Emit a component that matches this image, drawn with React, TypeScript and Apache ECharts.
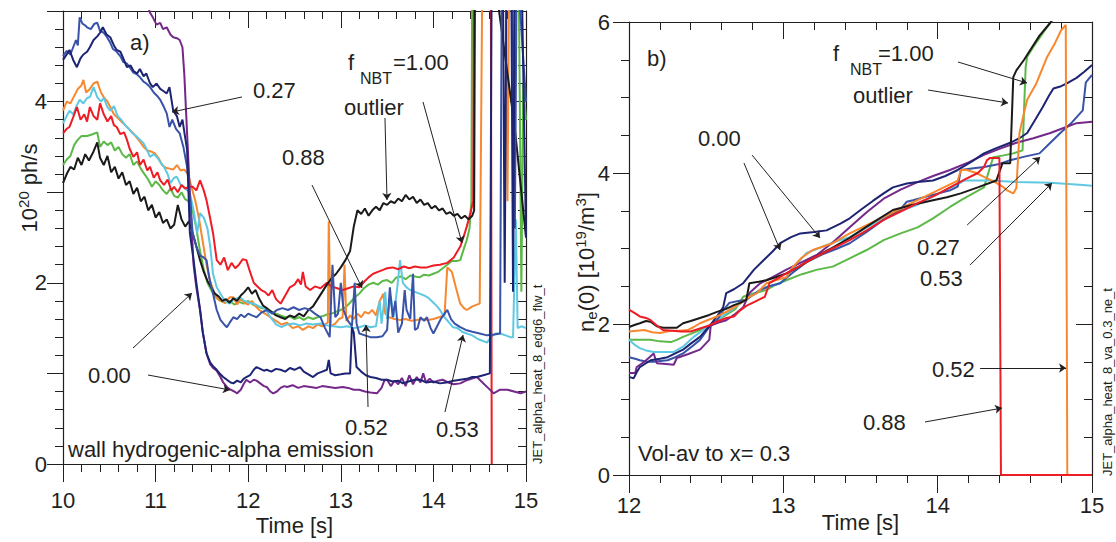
import React, { useEffect, useRef } from "react";
import * as echarts from "echarts";

type P = [number, number];
type A = [number, number, number, number];

// ---------- panel a) wall hydrogenic-alpha emission (10^20 ph/s) ----------
const leftBlack: P[] = [[10.00,3.10],[10.04,3.20],[10.08,3.28],[10.12,3.25],[10.16,3.38],[10.20,3.30],[10.24,3.42],[10.28,3.35],[10.33,3.45],[10.37,3.55],[10.40,3.38],[10.44,3.30],[10.48,3.40],[10.52,3.22],[10.56,3.28],[10.60,3.15],[10.64,3.22],[10.68,3.08],[10.72,3.12],[10.76,2.98],[10.80,3.05],[10.84,2.90],[10.88,2.95],[10.92,2.80],[10.96,2.86],[11.00,2.72],[11.04,2.78],[11.08,2.66],[11.12,2.70],[11.16,2.60],[11.20,2.64],[11.24,2.86],[11.28,2.70],[11.32,2.62],[11.36,2.68],[11.40,2.55],[11.44,2.40],[11.48,2.25],[11.52,2.12],[11.56,2.02],[11.60,1.95],[11.64,1.88],[11.68,1.85],[11.72,1.80],[11.76,1.82],[11.80,1.78],[11.84,1.83],[11.88,1.80],[11.92,1.86],[11.96,1.90],[12.00,1.95],[12.04,1.88],[12.08,1.92],[12.12,1.82],[12.16,1.75],[12.20,1.72],[12.25,1.68],[12.30,1.64],[12.35,1.62],[12.40,1.60],[12.45,1.64],[12.50,1.62],[12.55,1.66],[12.60,1.63],[12.65,1.70],[12.70,1.74],[12.75,1.82],[12.80,1.90],[12.85,1.98],[12.90,2.05],[12.95,2.10],[13.00,2.17],[13.05,2.25],[13.10,2.35],[13.14,2.62],[13.18,2.80],[13.22,2.76],[13.26,2.82],[13.30,2.74],[13.34,2.80],[13.38,2.84],[13.42,2.80],[13.46,2.88],[13.50,2.86],[13.54,2.90],[13.58,2.88],[13.62,2.93],[13.66,2.90],[13.70,2.97],[13.74,2.92],[13.78,2.95],[13.82,2.88],[13.86,2.92],[13.90,2.86],[13.94,2.88],[13.98,2.82],[14.02,2.85],[14.06,2.80],[14.10,2.82],[14.14,2.76],[14.18,2.78],[14.22,2.74],[14.26,2.76],[14.30,2.71],[14.34,2.74],[14.38,2.70],[14.42,2.74],[14.44,2.80],[14.45,5.60],[14.63,5.60],[14.88,3.70],[15.00,2.50]];
const leftGreen: P[] = [[10.00,3.30],[10.04,3.36],[10.08,3.40],[10.12,3.52],[10.16,3.58],[10.20,3.62],[10.26,3.62],[10.32,3.64],[10.37,3.66],[10.40,3.50],[10.44,3.56],[10.48,3.52],[10.52,3.55],[10.56,3.46],[10.60,3.50],[10.64,3.42],[10.68,3.38],[10.72,3.42],[10.76,3.30],[10.80,3.34],[10.84,3.26],[10.88,3.20],[10.92,3.14],[10.96,3.06],[11.00,3.12],[11.04,3.08],[11.08,3.02],[11.12,2.98],[11.16,3.04],[11.20,2.96],[11.24,2.94],[11.28,3.00],[11.32,2.92],[11.36,2.90],[11.40,2.80],[11.44,2.60],[11.48,2.35],[11.52,2.15],[11.56,2.00],[11.60,1.92],[11.65,1.84],[11.70,1.80],[11.75,1.78],[11.80,1.80],[11.85,1.76],[11.90,1.79],[11.95,1.77],[12.00,1.80],[12.05,1.76],[12.10,1.74],[12.15,1.72],[12.20,1.72],[12.25,1.68],[12.30,1.66],[12.35,1.64],[12.40,1.62],[12.45,1.63],[12.50,1.60],[12.55,1.62],[12.60,1.59],[12.65,1.62],[12.70,1.60],[12.75,1.62],[12.80,1.63],[12.85,1.65],[12.90,1.66],[12.95,1.68],[13.00,1.70],[13.05,1.73],[13.10,1.78],[13.15,1.84],[13.20,1.88],[13.25,1.94],[13.30,1.98],[13.35,2.00],[13.40,1.98],[13.45,2.02],[13.50,2.03],[13.55,2.00],[13.60,2.06],[13.65,2.07],[13.70,2.04],[13.75,2.08],[13.80,2.07],[13.85,2.06],[13.90,2.09],[13.95,2.08],[14.00,2.10],[14.05,2.12],[14.10,2.16],[14.15,2.20],[14.20,2.24],[14.25,2.24],[14.29,2.25],[14.33,2.38],[14.36,2.47],[14.39,2.60],[14.41,2.90],[14.42,5.60],[14.92,5.60],[14.95,1.90],[14.97,4.20],[15.00,3.80]];
const leftRed: P[] = [[10.00,3.65],[10.04,3.70],[10.07,3.72],[10.10,3.80],[10.15,3.94],[10.19,3.80],[10.23,3.86],[10.26,3.78],[10.29,3.94],[10.33,3.84],[10.37,3.80],[10.40,3.98],[10.44,3.86],[10.48,3.78],[10.52,3.84],[10.55,3.74],[10.58,3.72],[10.62,3.64],[10.66,3.66],[10.69,3.58],[10.72,3.48],[10.76,3.39],[10.80,3.44],[10.83,3.30],[10.87,3.36],[10.91,3.24],[10.94,3.28],[10.98,3.16],[11.02,3.22],[11.05,3.13],[11.09,3.08],[11.13,3.14],[11.17,3.02],[11.20,3.06],[11.24,3.00],[11.28,3.08],[11.32,3.04],[11.36,3.06],[11.40,3.06],[11.44,3.02],[11.48,3.13],[11.52,3.02],[11.55,2.91],[11.58,2.76],[11.62,2.55],[11.66,2.25],[11.70,2.20],[11.74,2.28],[11.78,2.14],[11.82,2.22],[11.86,2.16],[11.90,2.20],[11.94,2.26],[11.98,2.25],[12.02,2.12],[12.06,2.00],[12.10,1.96],[12.14,1.92],[12.18,1.90],[12.22,1.86],[12.26,1.92],[12.30,1.82],[12.35,1.77],[12.40,1.86],[12.45,1.95],[12.50,1.98],[12.54,2.04],[12.57,1.98],[12.59,2.12],[12.62,1.96],[12.67,1.92],[12.72,1.96],[12.78,1.94],[12.85,2.00],[12.90,1.96],[12.96,1.94],[13.02,1.92],[13.08,1.94],[13.14,1.96],[13.20,1.95],[13.26,2.02],[13.30,2.06],[13.35,2.10],[13.40,2.12],[13.45,2.14],[13.50,2.16],[13.56,2.17],[13.62,2.15],[13.68,2.18],[13.74,2.16],[13.80,2.18],[13.86,2.17],[13.93,2.17],[14.00,2.19],[14.07,2.20],[14.15,2.22],[14.22,2.28],[14.29,2.40],[14.33,2.52],[14.36,2.62],[14.40,2.77],[14.43,2.90],[14.44,5.60],[14.62,5.60],[14.63,0.00]];
const leftOrange: P[] = [[10.00,3.90],[10.04,4.00],[10.08,3.98],[10.12,4.06],[10.16,4.14],[10.20,4.18],[10.22,4.24],[10.25,4.10],[10.29,4.14],[10.33,4.20],[10.37,4.22],[10.41,4.10],[10.44,4.05],[10.48,4.00],[10.51,3.94],[10.55,3.86],[10.59,3.82],[10.63,3.78],[10.67,3.74],[10.71,3.70],[10.75,3.66],[10.79,3.61],[10.83,3.56],[10.87,3.50],[10.91,3.46],[10.95,3.45],[10.99,3.43],[11.03,3.38],[11.07,3.30],[11.11,3.27],[11.15,3.26],[11.19,3.25],[11.23,3.30],[11.27,3.24],[11.31,3.25],[11.35,3.20],[11.39,3.05],[11.43,2.90],[11.47,2.70],[11.51,2.45],[11.55,2.20],[11.59,2.02],[11.63,1.90],[11.67,1.82],[11.71,1.80],[11.75,1.78],[11.80,1.84],[11.84,1.84],[11.88,1.76],[11.92,1.82],[11.96,1.78],[12.00,1.76],[12.04,1.80],[12.08,1.74],[12.12,1.70],[12.18,1.66],[12.24,1.62],[12.30,1.58],[12.36,1.54],[12.42,1.56],[12.48,1.50],[12.54,1.52],[12.59,1.48],[12.65,1.52],[12.70,1.50],[12.75,1.54],[12.80,1.52],[12.86,1.56],[12.87,2.68],[12.89,1.52],[12.94,1.55],[12.98,1.60],[13.02,1.62],[13.04,2.20],[13.06,1.58],[13.10,1.64],[13.14,1.60],[13.18,1.66],[13.22,1.62],[13.26,1.68],[13.30,1.66],[13.34,1.70],[13.38,1.64],[13.42,1.80],[13.46,1.88],[13.48,1.66],[13.52,1.62],[13.58,1.60],[13.64,1.59],[13.70,1.60],[13.76,1.58],[13.82,1.59],[13.88,1.60],[13.94,1.59],[14.00,1.60],[14.06,1.62],[14.12,1.64],[14.15,2.17],[14.20,2.12],[14.24,1.96],[14.29,1.77],[14.33,1.72],[14.36,1.70],[14.42,1.74],[14.50,1.77],[14.53,5.60],[14.78,5.60],[14.80,2.90],[14.82,5.60],[15.00,5.60]];
const leftCyan: P[] = [[10.00,3.76],[10.04,3.84],[10.07,3.90],[10.11,3.86],[10.15,3.96],[10.18,4.02],[10.22,3.98],[10.26,4.04],[10.29,4.05],[10.33,4.16],[10.37,4.05],[10.41,4.00],[10.44,4.04],[10.48,3.94],[10.51,3.90],[10.55,3.95],[10.59,3.84],[10.63,3.80],[10.67,3.74],[10.71,3.70],[10.75,3.65],[10.79,3.62],[10.83,3.58],[10.87,3.54],[10.91,3.46],[10.94,3.39],[10.98,3.42],[11.02,3.38],[11.06,3.32],[11.09,3.28],[11.13,3.20],[11.16,3.10],[11.20,3.16],[11.23,3.17],[11.27,3.08],[11.30,3.06],[11.34,3.02],[11.37,2.99],[11.41,2.80],[11.45,2.55],[11.48,2.77],[11.52,2.72],[11.56,2.60],[11.59,2.40],[11.62,2.10],[11.66,1.95],[11.70,1.88],[11.75,1.80],[11.80,1.77],[11.85,1.82],[11.91,1.84],[11.96,1.80],[12.01,1.78],[12.06,1.77],[12.12,1.74],[12.18,1.72],[12.24,1.62],[12.30,1.54],[12.36,1.51],[12.42,1.54],[12.49,1.55],[12.56,1.53],[12.63,1.55],[12.70,1.54],[12.78,1.55],[12.85,1.53],[12.92,1.52],[13.00,1.51],[13.07,1.52],[13.14,1.50],[13.20,1.51],[13.26,1.53],[13.32,1.51],[13.38,1.52],[13.42,1.80],[13.44,1.55],[13.48,1.90],[13.50,1.60],[13.54,1.85],[13.57,1.62],[13.61,1.95],[13.64,2.25],[13.67,2.00],[13.71,1.95],[13.75,1.92],[13.80,1.90],[13.85,1.88],[13.90,1.86],[13.95,1.83],[14.00,1.78],[14.04,1.74],[14.07,1.70],[14.12,1.62],[14.17,1.56],[14.21,1.51],[14.26,1.50],[14.31,1.46],[14.36,1.44],[14.42,1.42],[14.48,1.38],[14.53,1.36],[14.58,1.34],[14.62,1.40],[14.67,1.44],[14.72,1.44],[14.78,1.42],[14.83,1.40],[14.86,1.40],[14.89,2.70],[14.91,1.50],[14.95,1.52],[15.00,1.50]];
const leftBlue: P[] = [[10.00,4.50],[10.04,4.56],[10.08,4.52],[10.11,4.60],[10.14,4.68],[10.16,4.62],[10.18,4.93],[10.21,4.86],[10.24,4.84],[10.26,4.82],[10.30,4.80],[10.34,4.86],[10.37,4.87],[10.40,4.78],[10.44,4.76],[10.47,4.72],[10.51,4.65],[10.54,4.58],[10.58,4.55],[10.62,4.50],[10.65,4.44],[10.69,4.42],[10.72,4.38],[10.76,4.32],[10.80,4.30],[10.83,4.27],[10.87,4.22],[10.90,4.20],[10.94,4.16],[10.98,4.10],[11.02,4.06],[11.05,4.02],[11.09,3.94],[11.12,3.87],[11.15,3.72],[11.18,3.80],[11.22,3.70],[11.26,3.65],[11.30,3.50],[11.34,3.28],[11.37,2.95],[11.40,2.55],[11.44,2.40],[11.48,2.30],[11.52,2.28],[11.55,2.25],[11.58,2.05],[11.62,1.88],[11.66,1.70],[11.70,1.59],[11.74,1.54],[11.77,1.51],[11.80,1.56],[11.84,1.62],[11.88,1.60],[11.92,1.65],[11.96,1.62],[12.00,1.66],[12.04,1.64],[12.09,1.62],[12.14,1.67],[12.20,1.70],[12.26,1.66],[12.31,1.70],[12.37,1.72],[12.43,1.70],[12.49,1.73],[12.55,1.70],[12.61,1.72],[12.67,1.70],[12.72,1.66],[12.78,1.62],[12.83,1.50],[12.88,1.40],[12.91,2.20],[12.94,1.62],[12.97,1.66],[13.00,2.00],[13.03,1.70],[13.07,1.59],[13.12,1.52],[13.15,2.00],[13.17,1.55],[13.20,1.44],[13.26,1.42],[13.32,1.40],[13.39,1.40],[13.45,1.41],[13.50,1.48],[13.53,1.95],[13.56,1.62],[13.59,1.80],[13.62,1.45],[13.66,1.55],[13.69,1.92],[13.71,1.70],[13.75,1.60],[13.78,2.10],[13.80,1.48],[13.83,1.50],[13.86,1.62],[13.90,1.58],[13.93,1.62],[13.97,1.50],[14.00,1.44],[14.04,1.52],[14.08,1.60],[14.12,1.66],[14.15,1.70],[14.19,1.60],[14.23,1.55],[14.29,1.51],[14.35,1.48],[14.42,1.46],[14.50,1.44],[14.58,1.42],[14.66,1.43],[14.72,1.44],[14.74,5.60],[14.85,5.60],[14.88,2.60],[14.90,5.60],[15.00,4.00]];
const leftNavy: P[] = [[10.00,4.46],[10.04,4.52],[10.07,4.57],[10.11,4.46],[10.15,4.38],[10.19,4.48],[10.22,4.52],[10.26,4.55],[10.29,4.60],[10.33,4.68],[10.37,4.72],[10.40,4.76],[10.43,4.82],[10.47,4.74],[10.51,4.71],[10.55,4.62],[10.58,4.57],[10.62,4.55],[10.65,4.48],[10.69,4.38],[10.73,4.40],[10.76,4.34],[10.80,4.31],[10.83,4.36],[10.87,4.28],[10.90,4.31],[10.94,4.20],[10.97,4.16],[11.01,4.20],[11.05,4.14],[11.08,4.12],[11.12,4.09],[11.15,4.16],[11.19,3.90],[11.23,3.84],[11.26,3.72],[11.29,3.80],[11.32,3.60],[11.34,3.47],[11.37,2.55],[11.41,2.25],[11.44,2.00],[11.48,1.70],[11.51,1.45],[11.55,1.22],[11.59,1.12],[11.62,1.08],[11.66,1.04],[11.70,0.99],[11.73,0.96],[11.77,0.93],[11.81,0.90],[11.84,0.89],[11.88,0.92],[11.92,0.90],[11.95,0.94],[11.98,0.96],[12.02,0.98],[12.06,1.04],[12.09,1.07],[12.13,1.05],[12.17,1.03],[12.20,1.04],[12.25,1.02],[12.30,1.05],[12.35,1.04],[12.40,1.02],[12.45,1.06],[12.50,1.04],[12.56,1.07],[12.60,1.02],[12.65,0.99],[12.70,0.96],[12.75,1.00],[12.80,1.02],[12.85,1.04],[12.87,1.15],[12.89,1.00],[12.94,0.98],[13.00,0.99],[13.05,1.00],[13.10,1.00],[13.12,1.51],[13.14,1.45],[13.17,1.07],[13.22,1.02],[13.27,0.98],[13.32,0.96],[13.38,0.95],[13.44,0.93],[13.50,0.93],[13.56,0.91],[13.62,0.92],[13.67,0.89],[13.73,0.91],[13.80,0.93],[13.86,0.93],[13.92,0.90],[14.00,0.91],[14.07,0.89],[14.14,0.90],[14.22,0.92],[14.29,0.93],[14.36,0.94],[14.42,0.96],[14.47,0.96],[14.54,0.98],[14.61,1.00],[14.63,5.60],[14.75,5.60],[14.77,2.00],[14.79,5.60],[14.84,5.60],[14.86,1.90],[14.88,5.60],[14.95,5.60],[15.00,2.50]];
const leftPurple: P[] = [[10.00,5.60],[10.85,5.60],[10.90,5.10],[10.94,4.98],[10.97,4.93],[11.01,4.85],[11.05,4.87],[11.08,4.80],[11.12,4.82],[11.16,4.74],[11.19,4.71],[11.23,4.70],[11.26,4.68],[11.29,4.60],[11.31,4.30],[11.34,3.65],[11.37,3.00],[11.41,2.20],[11.44,1.95],[11.48,1.70],[11.51,1.45],[11.55,1.22],[11.59,1.10],[11.62,1.06],[11.66,1.03],[11.70,0.96],[11.73,0.90],[11.77,0.85],[11.81,0.82],[11.85,0.80],[11.88,0.78],[11.92,0.82],[11.95,0.88],[11.98,0.93],[12.02,0.90],[12.06,0.93],[12.09,0.92],[12.13,0.89],[12.17,0.86],[12.20,0.85],[12.24,0.80],[12.27,0.78],[12.31,0.80],[12.35,0.84],[12.39,0.86],[12.42,0.85],[12.48,0.87],[12.54,0.84],[12.60,0.86],[12.67,0.85],[12.74,0.84],[12.80,0.86],[12.87,0.85],[12.94,0.84],[13.02,0.85],[13.08,0.84],[13.14,0.82],[13.20,0.82],[13.26,0.80],[13.32,0.79],[13.39,0.78],[13.44,0.84],[13.47,0.92],[13.50,0.93],[13.54,0.86],[13.58,0.92],[13.62,0.88],[13.66,0.95],[13.70,0.86],[13.74,0.98],[13.78,0.88],[13.82,0.96],[13.86,0.90],[13.89,1.00],[13.92,0.90],[13.96,0.94],[14.00,0.90],[14.05,0.92],[14.10,0.93],[14.16,0.90],[14.22,0.88],[14.29,0.89],[14.35,0.92],[14.41,0.94],[14.47,0.96],[14.53,0.90],[14.59,0.84],[14.65,0.78],[14.72,0.82],[14.80,0.82],[14.87,0.80],[14.94,0.78],[15.00,0.80]];

// ---------- panel b) ne(0) [10^19/m^3] ----------
const rightRed: P[] = [[12.00,2.19],[12.04,2.14],[12.07,2.10],[12.11,2.08],[12.14,2.05],[12.18,1.98],[12.22,1.92],[12.28,1.91],[12.34,1.90],[12.40,1.90],[12.46,1.94],[12.52,1.98],[12.58,2.04],[12.63,2.08],[12.68,2.10],[12.72,2.18],[12.76,2.24],[12.82,2.30],[12.88,2.36],[12.91,2.54],[12.96,2.60],[13.02,2.67],[13.10,2.76],[13.20,2.88],[13.30,2.98],[13.43,3.11],[13.54,3.24],[13.65,3.38],[13.76,3.49],[13.87,3.60],[13.98,3.70],[14.08,3.81],[14.18,3.92],[14.26,4.00],[14.30,4.08],[14.32,4.17],[14.34,4.20],[14.40,4.20],[14.41,0.00],[15.00,0.00]];
const rightBlack: P[] = [[12.00,1.96],[12.04,1.99],[12.07,2.01],[12.11,2.04],[12.14,2.03],[12.18,1.97],[12.22,1.95],[12.27,1.95],[12.31,1.95],[12.35,2.01],[12.40,2.04],[12.46,2.08],[12.52,2.12],[12.57,2.16],[12.63,2.20],[12.68,2.25],[12.72,2.28],[12.76,2.32],[12.78,2.54],[12.84,2.56],[12.89,2.58],[12.95,2.62],[13.02,2.67],[13.10,2.76],[13.20,2.88],[13.30,2.99],[13.43,3.14],[13.57,3.33],[13.71,3.51],[13.84,3.58],[13.97,3.64],[14.06,3.68],[14.15,3.73],[14.26,3.81],[14.38,3.90],[14.42,4.13],[14.47,4.13],[14.49,5.27],[14.51,5.36],[14.56,5.50],[14.60,5.63],[14.66,5.82],[14.73,5.99],[14.80,6.20]];
const rightOrange: P[] = [[12.00,1.90],[12.05,1.91],[12.10,1.92],[12.15,1.89],[12.20,1.88],[12.27,1.91],[12.33,1.91],[12.38,1.92],[12.42,1.96],[12.46,2.01],[12.52,2.06],[12.57,2.10],[12.63,2.16],[12.68,2.22],[12.74,2.30],[12.78,2.36],[12.83,2.41],[12.89,2.54],[12.95,2.58],[13.02,2.62],[13.06,2.75],[13.12,2.88],[13.19,2.98],[13.32,3.07],[13.43,3.20],[13.54,3.31],[13.65,3.42],[13.76,3.53],[13.87,3.64],[14.00,3.77],[14.13,3.90],[14.15,4.04],[14.19,4.04],[14.25,4.00],[14.30,3.95],[14.34,3.91],[14.38,3.87],[14.42,3.82],[14.45,3.77],[14.49,3.73],[14.51,3.80],[14.53,4.53],[14.56,4.80],[14.58,4.97],[14.64,5.19],[14.71,5.54],[14.76,5.72],[14.80,5.89],[14.83,5.96],[14.84,0.00],[15.00,0.00]];
const rightGreen: P[] = [[12.00,1.79],[12.07,1.79],[12.14,1.79],[12.20,1.77],[12.27,1.76],[12.31,1.79],[12.35,1.83],[12.40,1.87],[12.46,1.92],[12.52,1.98],[12.57,2.05],[12.63,2.12],[12.69,2.20],[12.74,2.36],[12.80,2.40],[12.89,2.45],[12.95,2.52],[13.02,2.58],[13.12,2.66],[13.22,2.72],[13.32,2.76],[13.43,2.87],[13.54,2.98],[13.65,3.11],[13.76,3.20],[13.87,3.28],[13.97,3.40],[14.08,3.55],[14.16,3.65],[14.23,3.73],[14.30,3.81],[14.34,4.08],[14.36,4.21],[14.42,4.23],[14.49,4.26],[14.55,4.30],[14.57,5.40],[14.58,5.54],[14.62,5.67],[14.68,5.85],[14.73,5.99],[14.80,6.20]];
const rightCyan: P[] = [[12.00,1.79],[12.04,1.72],[12.07,1.68],[12.11,1.65],[12.16,1.63],[12.22,1.63],[12.29,1.63],[12.35,1.70],[12.42,1.83],[12.50,1.95],[12.57,2.05],[12.63,2.14],[12.70,2.24],[12.78,2.36],[12.84,2.44],[12.89,2.49],[12.98,2.54],[13.02,2.62],[13.08,2.78],[13.15,2.94],[13.25,3.02],[13.35,3.10],[13.43,3.15],[13.54,3.28],[13.65,3.40],[13.76,3.50],[13.87,3.58],[13.98,3.70],[14.08,3.80],[14.13,3.85],[14.17,3.90],[14.34,3.90],[14.51,3.88],[14.73,3.87],[14.94,3.84],[15.00,3.83]];
const rightBlue: P[] = [[12.00,1.56],[12.04,1.54],[12.07,1.52],[12.12,1.50],[12.16,1.50],[12.20,1.51],[12.25,1.52],[12.30,1.56],[12.35,1.61],[12.40,1.69],[12.46,1.79],[12.52,1.96],[12.57,2.05],[12.61,2.18],[12.65,2.28],[12.70,2.30],[12.76,2.32],[12.80,2.38],[12.85,2.45],[12.91,2.50],[12.98,2.54],[13.06,2.68],[13.15,2.82],[13.25,2.92],[13.35,3.00],[13.43,3.07],[13.54,3.22],[13.65,3.38],[13.76,3.52],[13.80,3.62],[13.84,3.64],[13.95,3.70],[14.08,3.77],[14.13,3.82],[14.15,4.04],[14.22,4.06],[14.30,4.08],[14.40,4.12],[14.47,4.17],[14.57,4.22],[14.66,4.26],[14.73,4.40],[14.80,4.54],[14.87,4.67],[14.94,4.83],[14.96,5.20],[15.00,5.30]];
const rightNavy: P[] = [[12.00,1.30],[12.03,1.28],[12.05,1.36],[12.07,1.43],[12.11,1.48],[12.14,1.52],[12.20,1.54],[12.25,1.56],[12.30,1.61],[12.35,1.66],[12.40,1.74],[12.46,1.83],[12.52,1.97],[12.57,2.10],[12.61,2.22],[12.63,2.41],[12.68,2.46],[12.74,2.54],[12.81,2.72],[12.87,2.84],[12.93,2.96],[12.98,3.07],[13.05,3.15],[13.11,3.20],[13.20,3.22],[13.28,3.24],[13.37,3.33],[13.43,3.40],[13.50,3.51],[13.58,3.63],[13.65,3.73],[13.71,3.81],[13.80,3.86],[13.87,3.88],[13.97,3.90],[14.05,3.96],[14.13,4.04],[14.22,4.15],[14.30,4.26],[14.38,4.33],[14.47,4.40],[14.53,4.46],[14.58,4.53],[14.63,4.70],[14.68,4.87],[14.72,5.02],[14.75,5.12],[14.80,5.15],[14.84,5.19],[14.90,5.26],[14.95,5.34],[15.00,5.43]];
const rightPurple: P[] = [[12.00,1.35],[12.04,1.35],[12.05,1.43],[12.10,1.50],[12.16,1.61],[12.18,1.48],[12.24,1.47],[12.29,1.46],[12.31,1.55],[12.38,1.60],[12.46,1.66],[12.52,1.79],[12.53,1.98],[12.58,2.02],[12.63,2.05],[12.68,2.12],[12.74,2.22],[12.78,2.41],[12.85,2.54],[12.93,2.62],[13.02,2.72],[13.11,2.81],[13.22,2.92],[13.32,3.08],[13.43,3.28],[13.54,3.48],[13.65,3.66],[13.76,3.78],[13.87,3.88],[13.97,3.96],[14.08,4.04],[14.20,4.14],[14.30,4.24],[14.40,4.32],[14.51,4.40],[14.62,4.46],[14.73,4.53],[14.82,4.60],[14.90,4.66],[15.00,4.68]];

// annotation arrows: [fromX, fromY, toX, toY] in data units
const leftArrows: A[] = [
  [11.933, 4.051, 11.177, 3.885],
  [13.477, 3.819, 13.499, 2.914],
  [13.888, 3.996, 14.309, 2.439],
  [12.689, 3.079, 13.229, 1.943],
  [10.756, 1.280, 11.393, 1.887],
  [10.918, 0.982, 11.803, 0.817],
  [13.294, 0.629, 13.272, 1.534],
  [14.125, 0.574, 14.320, 1.424],
];
const rightArrows: A[] = [
  [14.132, 5.470, 14.579, 5.192],
  [13.938, 5.099, 14.456, 4.927],
  [12.745, 4.132, 12.979, 2.980],
  [12.797, 4.238, 13.238, 3.139],
  [14.191, 3.311, 14.664, 4.212],
  [14.210, 2.781, 14.741, 3.868],
  [14.275, 1.417, 14.832, 1.417],
  [13.918, 0.702, 14.417, 0.887],
];

const leftYLabelValues = [0, 2, 4];
const rightYLabelValues = [0, 2, 4, 6];

const COLORS = {
  black: "#1a1a1a",
  green: "#5cb947",
  red: "#ee1c25",
  orange: "#f7882f",
  cyan: "#5fc8e2",
  blue: "#3853a8",
  navy: "#1d2474",
  purple: "#74298a",
};

const FONT = '"Liberation Sans", Arial, Helvetica, sans-serif';
const INK = "#231f20";
const FS = 22;

function xAxisPair(gridIndex: number, min: number, max: number, margin: number, nameGap: number) {
  const common: any = {
    type: "value",
    gridIndex,
    min,
    max,
    interval: 1,
    splitLine: { show: false },
    axisLine: { show: true, onZero: false, lineStyle: { color: INK, width: 1.2 } },
    minorTick: { show: true, splitNumber: 5, length: 8, lineStyle: { color: INK, width: 1 } },
    minorSplitLine: { show: false },
  };
  return [
    {
      ...common,
      position: "bottom",
      axisTick: { show: true, inside: false, length: 18, lineStyle: { color: INK, width: 1 } },
      axisLabel: { show: true, margin, fontSize: FS, color: INK, fontFamily: FONT, showMinLabel: true, showMaxLabel: true },
      name: "Time [s]",
      nameLocation: "middle",
      nameGap,
      nameMoveOverlap: false,
      nameTextStyle: { fontSize: FS, color: INK, fontFamily: FONT, lineHeight: 22 },
    },
    {
      ...common,
      position: "top",
      axisTick: { show: true, inside: true, length: 17, lineStyle: { color: INK, width: 1 } },
      axisLabel: { show: false },
    },
  ];
}

function yAxisPair(gridIndex: number, max: number, interval: number, minorSplit: number, labels: number[], margin: number) {
  const common: any = {
    type: "value",
    gridIndex,
    min: 0,
    max,
    interval,
    splitLine: { show: false },
    axisLine: { show: true, onZero: false, lineStyle: { color: INK, width: 1.2 } },
    minorTick: { show: true, splitNumber: minorSplit, length: 8, lineStyle: { color: INK, width: 1 } },
    minorSplitLine: { show: false },
  };
  return [
    {
      ...common,
      position: "left",
      axisTick: { show: true, inside: false, length: 16, lineStyle: { color: INK, width: 1 } },
      axisLabel: {
        show: true,
        margin,
        fontSize: FS,
        color: INK,
        fontFamily: FONT,
        showMinLabel: true,
        showMaxLabel: true,
        formatter: (v: number) => (labels.indexOf(Math.round(v * 1000) / 1000) >= 0 ? String(v) : ""),
      },
    },
    {
      ...common,
      position: "right",
      axisTick: { show: true, inside: true, length: 16, lineStyle: { color: INK, width: 1 } },
      axisLabel: { show: false },
    },
  ];
}

function lineSeries(data: P[], color: string, xi: number, yi: number) {
  return {
    type: "line",
    data,
    xAxisIndex: xi,
    yAxisIndex: yi,
    showSymbol: false,
    symbol: "none",
    clip: true,
    silent: true,
    lineStyle: { color, width: 2 },
    itemStyle: { color },
    emphasis: { disabled: true },
  };
}

function arrowSeries(arrows: A[], xi: number, yi: number) {
  return {
    type: "line",
    data: [],
    xAxisIndex: xi,
    yAxisIndex: yi,
    silent: true,
    markLine: {
      silent: true,
      animation: false,
      symbol: ["none", "arrow"],
      symbolSize: 7,
      label: { show: false },
      emphasis: { disabled: true },
      lineStyle: { color: INK, width: 1, type: "solid" },
      data: arrows.map((a) => [{ coord: [a[0], a[1]] }, { coord: [a[2], a[3]] }]),
    },
  };
}

function txt(text: string, x: number, y: number, size = FS, align = "left") {
  return {
    type: "text",
    x,
    y,
    silent: true,
    style: { text, fontSize: size, fontFamily: FONT, fill: INK, align, verticalAlign: "middle" },
  };
}

export default function App() {
  const ref = useRef<HTMLDivElement>(null);

  useEffect(() => {
    if (!ref.current) return;
    const chart = echarts.init(ref.current, undefined, { renderer: "svg" });

    const option: any = {
      animation: false,
      backgroundColor: "#ffffff",
      grid: [
        { left: 63, right: 590, top: 11, bottom: 78, containLabel: false, outerBoundsMode: "none" },
        { left: 629, right: 24, top: 22, bottom: 67, containLabel: false, outerBoundsMode: "none" },
      ],
      xAxis: [...xAxisPair(0, 10, 15, 25, 50), ...xAxisPair(1, 12, 15, 19, 36)],
      yAxis: [
        ...yAxisPair(0, 5, 1, 5, leftYLabelValues, 16),
        ...yAxisPair(1, 6, 2, 4, rightYLabelValues, 19),
      ],
      series: [
        lineSeries(leftGreen, COLORS.green, 0, 0),
        lineSeries(leftOrange, COLORS.orange, 0, 0),
        lineSeries(leftCyan, COLORS.cyan, 0, 0),
        lineSeries(leftRed, COLORS.red, 0, 0),
        lineSeries(leftBlack, COLORS.black, 0, 0),
        lineSeries(leftPurple, COLORS.purple, 0, 0),
        lineSeries(leftBlue, COLORS.blue, 0, 0),
        lineSeries(leftNavy, COLORS.navy, 0, 0),
        arrowSeries(leftArrows, 0, 0),
        lineSeries(rightGreen, COLORS.green, 2, 2),
        lineSeries(rightCyan, COLORS.cyan, 2, 2),
        lineSeries(rightBlue, COLORS.blue, 2, 2),
        lineSeries(rightPurple, COLORS.purple, 2, 2),
        lineSeries(rightNavy, COLORS.navy, 2, 2),
        lineSeries(rightOrange, COLORS.orange, 2, 2),
        lineSeries(rightBlack, COLORS.black, 2, 2),
        lineSeries(rightRed, COLORS.red, 2, 2),
        arrowSeries(rightArrows, 2, 2),
      ],
      graphic: [
        // panel a) texts
        txt("a)", 130, 42),
        txt("0.27", 253, 90),
        txt("f", 348, 62),
        txt("NBT", 360, 78, 16),
        txt("=1.00", 393, 62),
        txt("outlier", 344, 107),
        txt("0.88", 282, 157),
        txt("0.00", 88, 375),
        txt("0.52", 345, 427),
        txt("0.53", 436, 429),
        txt("wall hydrogenic-alpha emission", 68, 449),
        {
          type: "text",
          x: 537,
          y: 464,
          rotation: Math.PI / 2,
          silent: true,
          style: { text: "JET_alpha_heat_8_edg6_flw_t", fontSize: 13, fontFamily: FONT, fill: INK, align: "left", verticalAlign: "middle" },
        },
        {
          type: "text",
          x: 29,
          y: 188,
          rotation: Math.PI / 2,
          silent: true,
          style: {
            text: "{m|10}{s|20}{m| ph/s}",
            align: "center",
            verticalAlign: "middle",
            fill: INK,
            fontFamily: FONT,
            rich: {
              m: { fontSize: FS, lineHeight: 26, fontFamily: FONT, fill: INK },
              s: { fontSize: 15, lineHeight: 12, fontFamily: FONT, fill: INK, verticalAlign: "top" },
            },
          },
        },
        // panel b) texts
        txt("b)", 647, 58),
        txt("f", 833, 53),
        txt("NBT", 850, 69, 16),
        txt("=1.00", 878, 53),
        txt("outlier", 853, 95),
        txt("0.00", 698, 138),
        txt("0.27", 917, 247),
        txt("0.53", 920, 278),
        txt("0.52", 932, 369),
        txt("0.88", 863, 422),
        txt("Vol-av to x= 0.3", 638, 453),
        {
          type: "text",
          x: 1107,
          y: 476,
          rotation: Math.PI / 2,
          silent: true,
          style: { text: "JET_alpha_heat_8_va_0.3_ne_t", fontSize: 13, fontFamily: FONT, fill: INK, align: "left", verticalAlign: "middle" },
        },
        {
          type: "text",
          x: 586,
          y: 262,
          rotation: Math.PI / 2,
          silent: true,
          style: {
            text: "{m|n}{b|e}{m|(0) [10}{s|19}{m|/m}{s|3}{m|]}",
            align: "center",
            verticalAlign: "middle",
            fill: INK,
            fontFamily: FONT,
            rich: {
              m: { fontSize: FS, lineHeight: 26, fontFamily: FONT, fill: INK },
              s: { fontSize: 15, lineHeight: 12, fontFamily: FONT, fill: INK, verticalAlign: "top" },
              b: { fontSize: 15, lineHeight: 12, fontFamily: FONT, fill: INK, verticalAlign: "bottom" },
            },
          },
        },
      ],
    };

    chart.setOption(option);
    return () => chart.dispose();
  }, []);

  return (
    <div
      ref={ref}
      style={{ position: "fixed", left: 0, top: 0, width: 1116, height: 542, background: "#fff" }}
    />
  );
}
